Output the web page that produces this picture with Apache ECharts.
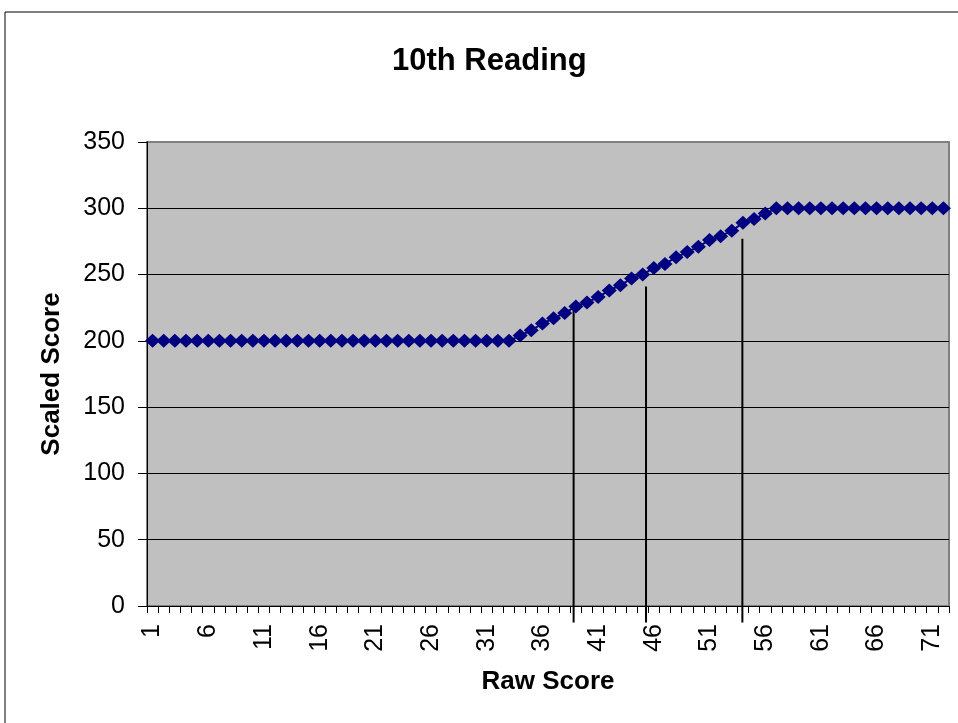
<!DOCTYPE html>
<html>
<head>
<meta charset="utf-8">
<title>10th Reading</title>
<script src="https://cdn.jsdelivr.net/npm/echarts@6/dist/echarts.min.js"></script>
<style>
html, body { margin: 0; padding: 0; background: #fff; }
#chart { width: 958px; height: 723px; }
</style>
</head>
<body>
<div id="chart"></div>
<script>
// raw score categories
var rawScores = [1, 2, 3, 4, 5, 6, 7, 8, 9, 10, 11, 12, 13, 14, 15, 16, 17, 18, 19, 20,
  21, 22, 23, 24, 25, 26, 27, 28, 29, 30, 31, 32, 33, 34, 35, 36, 37, 38, 39, 40,
  41, 42, 43, 44, 45, 46, 47, 48, 49, 50, 51, 52, 53, 54, 55, 56, 57, 58, 59, 60,
  61, 62, 63, 64, 65, 66, 67, 68, 69, 70, 71, 72];
// scaled score for each raw score
var scaledScores = [200, 200, 200, 200, 200, 200, 200, 200, 200, 200, 200, 200, 200, 200, 200, 200, 200, 200, 200, 200,
  200, 200, 200, 200, 200, 200, 200, 200, 200, 200, 200, 200, 200, 204, 208, 213, 217, 221, 226, 229,
  233, 238, 242, 247, 250, 255, 258, 263, 267, 271, 276, 279, 283, 289, 292, 296, 300, 300, 300, 300,
  300, 300, 300, 300, 300, 300, 300, 300, 300, 300, 300, 300];
// cut lines (position along the raw score axis, top and bottom value)
var cutPos = [38.3, 44.8, 53.45];
var cutTop = [224, 241, 277];
var cutBottom = -12.5;

var font = 'Liberation Sans, Arial, sans-serif';
var chart = echarts.init(document.getElementById('chart'));

var cutSeries = cutPos.map(function (p, i) {
  return {
    type: 'line',
    xAxisIndex: 1,
    yAxisIndex: 0,
    clip: false,
    silent: true,
    symbol: 'none',
    lineStyle: { color: '#000', width: 2 },
    data: [[p, cutBottom], [p, cutTop[i]]],
    z: 1
  };
});

var option = {
  animation: false,
  backgroundColor: '#fff',
  title: {
    text: '10th Reading',
    left: 387,
    top: 41,
    textStyle: { fontFamily: font, fontSize: 31, fontWeight: 'bold', color: '#000' }
  },
  graphic: [{
    type: 'rect',
    shape: { x: 5, y: 12, width: 1100, height: 1100 },
    style: { fill: 'none', stroke: '#000', lineWidth: 1 },
    silent: true
  }],
  grid: {
    left: 147, right: 9, top: 142, bottom: 117,
    show: true,
    backgroundColor: '#C0C0C0',
    borderColor: '#808080',
    borderWidth: 2
  },
  xAxis: [{
    type: 'category',
    data: rawScores,
    boundaryGap: true,
    name: 'Raw Score',
    nameLocation: 'middle',
    nameGap: 63,
    nameTextStyle: { fontFamily: font, fontSize: 26, fontWeight: 'bold', color: '#000' },
    axisLine: { show: true, lineStyle: { color: '#000', width: 1 } },
    axisTick: { show: true, interval: 0, length: 7, lineStyle: { color: '#000', width: 1 } },
    axisLabel: {
      interval: 4, rotate: 90, margin: 18,
      fontFamily: font, fontSize: 25, color: '#000'
    },
    splitLine: { show: false }
  }, {
    type: 'value',
    min: 0, max: 72,
    show: false
  }],
  yAxis: {
    type: 'value',
    min: 0, max: 350, interval: 50,
    name: 'Scaled Score',
    nameLocation: 'middle',
    nameGap: 82,
    nameTextStyle: { fontFamily: font, fontSize: 26, fontWeight: 'bold', color: '#000' },
    axisLine: { show: true, lineStyle: { color: '#000', width: 1 } },
    axisTick: { show: true, length: 9, lineStyle: { color: '#000', width: 1 } },
    axisLabel: { margin: 22, fontFamily: font, fontSize: 25, color: '#000' },
    splitLine: { show: true, showMinLine: false, showMaxLine: false, lineStyle: { color: '#000', width: 1 } }
  },
  series: cutSeries.concat([{
    name: 'Scaled Score',
    type: 'line',
    data: scaledScores,
    symbol: 'diamond',
    symbolSize: [15, 14],
    showAllSymbol: true,
    itemStyle: { color: '#000080' },
    lineStyle: { color: '#000080', width: 2 },
    z: 3
  }])
};

chart.setOption(option);
</script>
</body>
</html>
